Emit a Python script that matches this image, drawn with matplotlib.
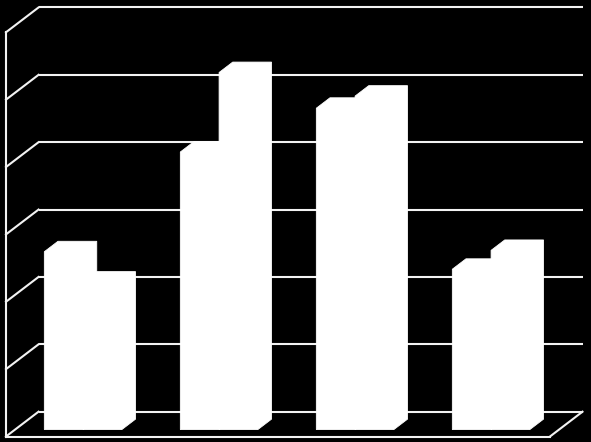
import matplotlib
matplotlib.use("Agg")
import matplotlib.pyplot as plt

# ---- data ----
categories = ["1", "2", "3", "4"]
series_a = [26.4, 41.2, 47.7, 23.8]
series_b = [21.9, 53.0, 49.5, 26.6]
grid_values = [0, 10, 20, 30, 40, 50, 60]

# ---- oblique 3D look parameters (data units) ----
DX = 0.239      # depth shift along x (category units)
DY = 3.68       # depth shift along y (value units)
BAR_W = 0.285   # width of one bar (category units)
D0, D1 = 0.28, 0.70   # bar depth range (fraction of floor depth)
LINE = "#f2f2f2"
LW = 1.5

fig = plt.figure(figsize=(5.91, 4.42), dpi=100, facecolor="black")
ax = fig.add_axes([0, 0, 1, 1])
ax.set_facecolor("black")
ax.set_xlim(-0.5441, 3.8015)
ax.set_ylim(-0.816, 64.79)
ax.axis("off")

n = len(categories)
x_left, x_right = -0.5, n - 0.5
vmax = grid_values[-1]

# back wall gridlines
for v in grid_values:
    ax.plot([x_left + DX, x_right + DX], [v + DY, v + DY], color=LINE, lw=LW,
            solid_capstyle="butt", zorder=1)
# left wall diagonals
for v in grid_values:
    ax.plot([x_left, x_left + DX], [v, v + DY], color=LINE, lw=LW, zorder=1)
# left wall front edge
ax.plot([x_left, x_left], [0, vmax], color=LINE, lw=LW, zorder=1)
# floor front edge and right edge
ax.plot([x_left, x_right], [0, 0], color=LINE, lw=LW, zorder=1)
ax.plot([x_right, x_right + DX], [0, DY], color=LINE, lw=LW, zorder=1)


def draw_bar(x0, x1, h):
    ox0, oy0 = D0 * DX, D0 * DY
    ox1, oy1 = D1 * DX, D1 * DY
    # silhouette of the box in oblique view (one polygon, no seams)
    xs = [x0 + ox0, x1 + ox0, x1 + ox1, x1 + ox1, x0 + ox1, x0 + ox0]
    ys = [oy0, oy0, oy1, h + oy1, h + oy1, h + oy0]
    ax.fill(xs, ys, color="white", lw=0.6, ec="white", zorder=3)


for i in range(n):
    draw_bar(i - BAR_W, i, series_a[i])
    draw_bar(i, i + BAR_W, series_b[i])

fig.savefig("out.png", dpi=100, facecolor="black")
